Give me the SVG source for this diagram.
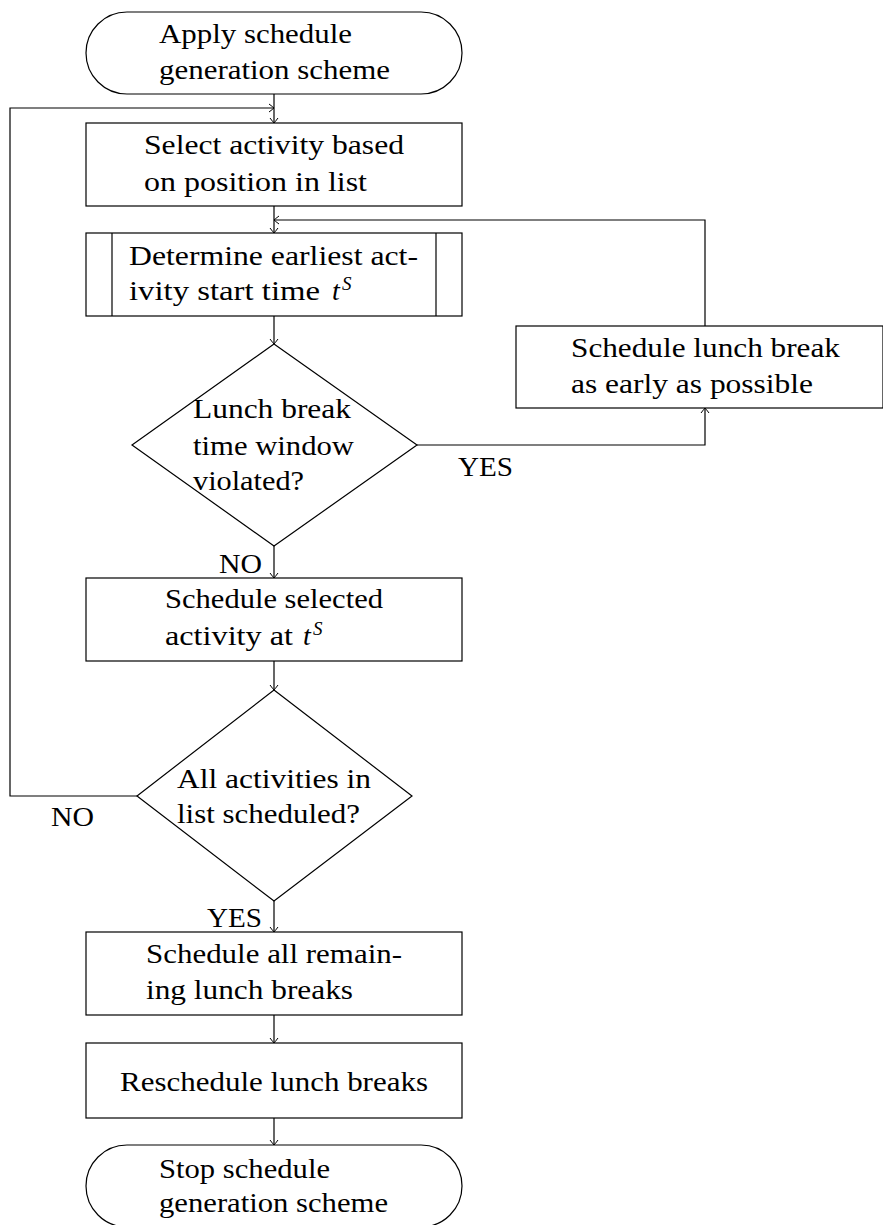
<svg xmlns="http://www.w3.org/2000/svg" width="883" height="1225" viewBox="0 0 883 1225">
<style>
.n{fill:#fff;stroke:#000;stroke-width:1.2}
.c{fill:none;stroke:#000;stroke-width:1.2}
text{font-family:"Liberation Serif","Times New Roman",serif;font-size:28px;fill:#000}
.i{font-style:italic}
.s{font-style:italic;font-size:19px}
</style>
<defs>
<marker id="a" viewBox="-6 -5 8 10" markerWidth="8" markerHeight="10" refX="0" refY="0" orient="auto" markerUnits="userSpaceOnUse">
<path d="M-5,-4 Q-1,-1 0,0 Q-1,1 -5,4" fill="none" stroke="#000" stroke-width="1"/>
</marker>
</defs>
<rect width="883" height="1225" fill="#fff"/>
<g id="connectors">
<line class="c" x1="274" y1="94" x2="274" y2="123" marker-end="url(#a)"/>
<polyline class="c" points="137,796 10,796 10,108 274,108" marker-end="url(#a)"/>
<line class="c" x1="274" y1="206" x2="274" y2="233" marker-end="url(#a)"/>
<polyline class="c" points="705,326 705,220 274,220" marker-end="url(#a)"/>
<line class="c" x1="274" y1="316" x2="274" y2="344" marker-end="url(#a)"/>
<polyline class="c" points="417,445 705,445 705,408" marker-end="url(#a)"/>
<line class="c" x1="274" y1="546" x2="274" y2="578" marker-end="url(#a)"/>
<line class="c" x1="274" y1="661" x2="274" y2="690" marker-end="url(#a)"/>
<line class="c" x1="274" y1="901" x2="274" y2="932" marker-end="url(#a)"/>
<line class="c" x1="274" y1="1015" x2="274" y2="1043" marker-end="url(#a)"/>
<line class="c" x1="274" y1="1118" x2="274" y2="1145" marker-end="url(#a)"/>
<text x="219" y="573" textLength="43" lengthAdjust="spacingAndGlyphs">NO</text>
<text x="458" y="476" textLength="55" lengthAdjust="spacingAndGlyphs">YES</text>
<text x="51" y="826" textLength="43" lengthAdjust="spacingAndGlyphs">NO</text>
<text x="207" y="927" textLength="55" lengthAdjust="spacingAndGlyphs">YES</text>
</g>
<g id="start">
<rect class="n" x="86" y="12" width="376" height="82" rx="41" ry="41"/>
<text x="159" y="43" textLength="193" lengthAdjust="spacingAndGlyphs">Apply schedule</text>
<text x="159" y="79" textLength="231" lengthAdjust="spacingAndGlyphs">generation scheme</text>
</g>
<g id="select">
<rect class="n" x="86" y="123" width="376" height="83"/>
<text x="144" y="154" textLength="260" lengthAdjust="spacingAndGlyphs">Select activity based</text>
<text x="144" y="191" textLength="223" lengthAdjust="spacingAndGlyphs">on position in list</text>
</g>
<g id="determine">
<rect class="n" x="86" y="233" width="376" height="83"/>
<line class="c" x1="112" y1="233" x2="112" y2="316"/>
<line class="c" x1="436" y1="233" x2="436" y2="316"/>
<text x="129" y="265" textLength="289" lengthAdjust="spacingAndGlyphs">Determine earliest act-</text>
<text x="129" y="300" textLength="191" lengthAdjust="spacingAndGlyphs">ivity start time</text>
<text class="i" x="332" y="300">t</text>
<text class="s" x="342" y="290">S</text>
</g>
<g id="lunchcheck">
<polygon class="n" points="274,344 417,445 274,546 132,445"/>
<text x="193" y="418" textLength="158" lengthAdjust="spacingAndGlyphs">Lunch break</text>
<text x="193" y="455" textLength="161" lengthAdjust="spacingAndGlyphs">time window</text>
<text x="193" y="490" textLength="111" lengthAdjust="spacingAndGlyphs">violated?</text>
</g>
<g id="lunchearly">
<rect class="n" x="516" y="326" width="367" height="82"/>
<text x="571" y="357" textLength="269" lengthAdjust="spacingAndGlyphs">Schedule lunch break</text>
<text x="571" y="393" textLength="242" lengthAdjust="spacingAndGlyphs">as early as possible</text>
</g>
<g id="schedsel">
<rect class="n" x="86" y="578" width="376" height="83"/>
<text x="165" y="608" textLength="218" lengthAdjust="spacingAndGlyphs">Schedule selected</text>
<text x="165" y="645" textLength="128" lengthAdjust="spacingAndGlyphs">activity at</text>
<text class="i" x="303" y="645">t</text>
<text class="s" x="313" y="635">S</text>
</g>
<g id="allcheck">
<polygon class="n" points="274,690 412,796 274,901 137,796"/>
<text x="177" y="788" textLength="194" lengthAdjust="spacingAndGlyphs">All activities in</text>
<text x="177" y="823" textLength="183" lengthAdjust="spacingAndGlyphs">list scheduled?</text>
</g>
<g id="remaining">
<rect class="n" x="86" y="932" width="376" height="83"/>
<text x="146" y="963" textLength="256" lengthAdjust="spacingAndGlyphs">Schedule all remain-</text>
<text x="146" y="999" textLength="207" lengthAdjust="spacingAndGlyphs">ing lunch breaks</text>
</g>
<g id="reschedule">
<rect class="n" x="86" y="1043" width="376" height="75"/>
<text x="120" y="1091" textLength="308" lengthAdjust="spacingAndGlyphs">Reschedule lunch breaks</text>
</g>
<g id="stop">
<rect class="n" x="86" y="1145" width="376" height="82" rx="41" ry="41"/>
<text x="159" y="1178" textLength="171" lengthAdjust="spacingAndGlyphs">Stop schedule</text>
<text x="159" y="1212" textLength="229" lengthAdjust="spacingAndGlyphs">generation scheme</text>
</g>
</svg>
